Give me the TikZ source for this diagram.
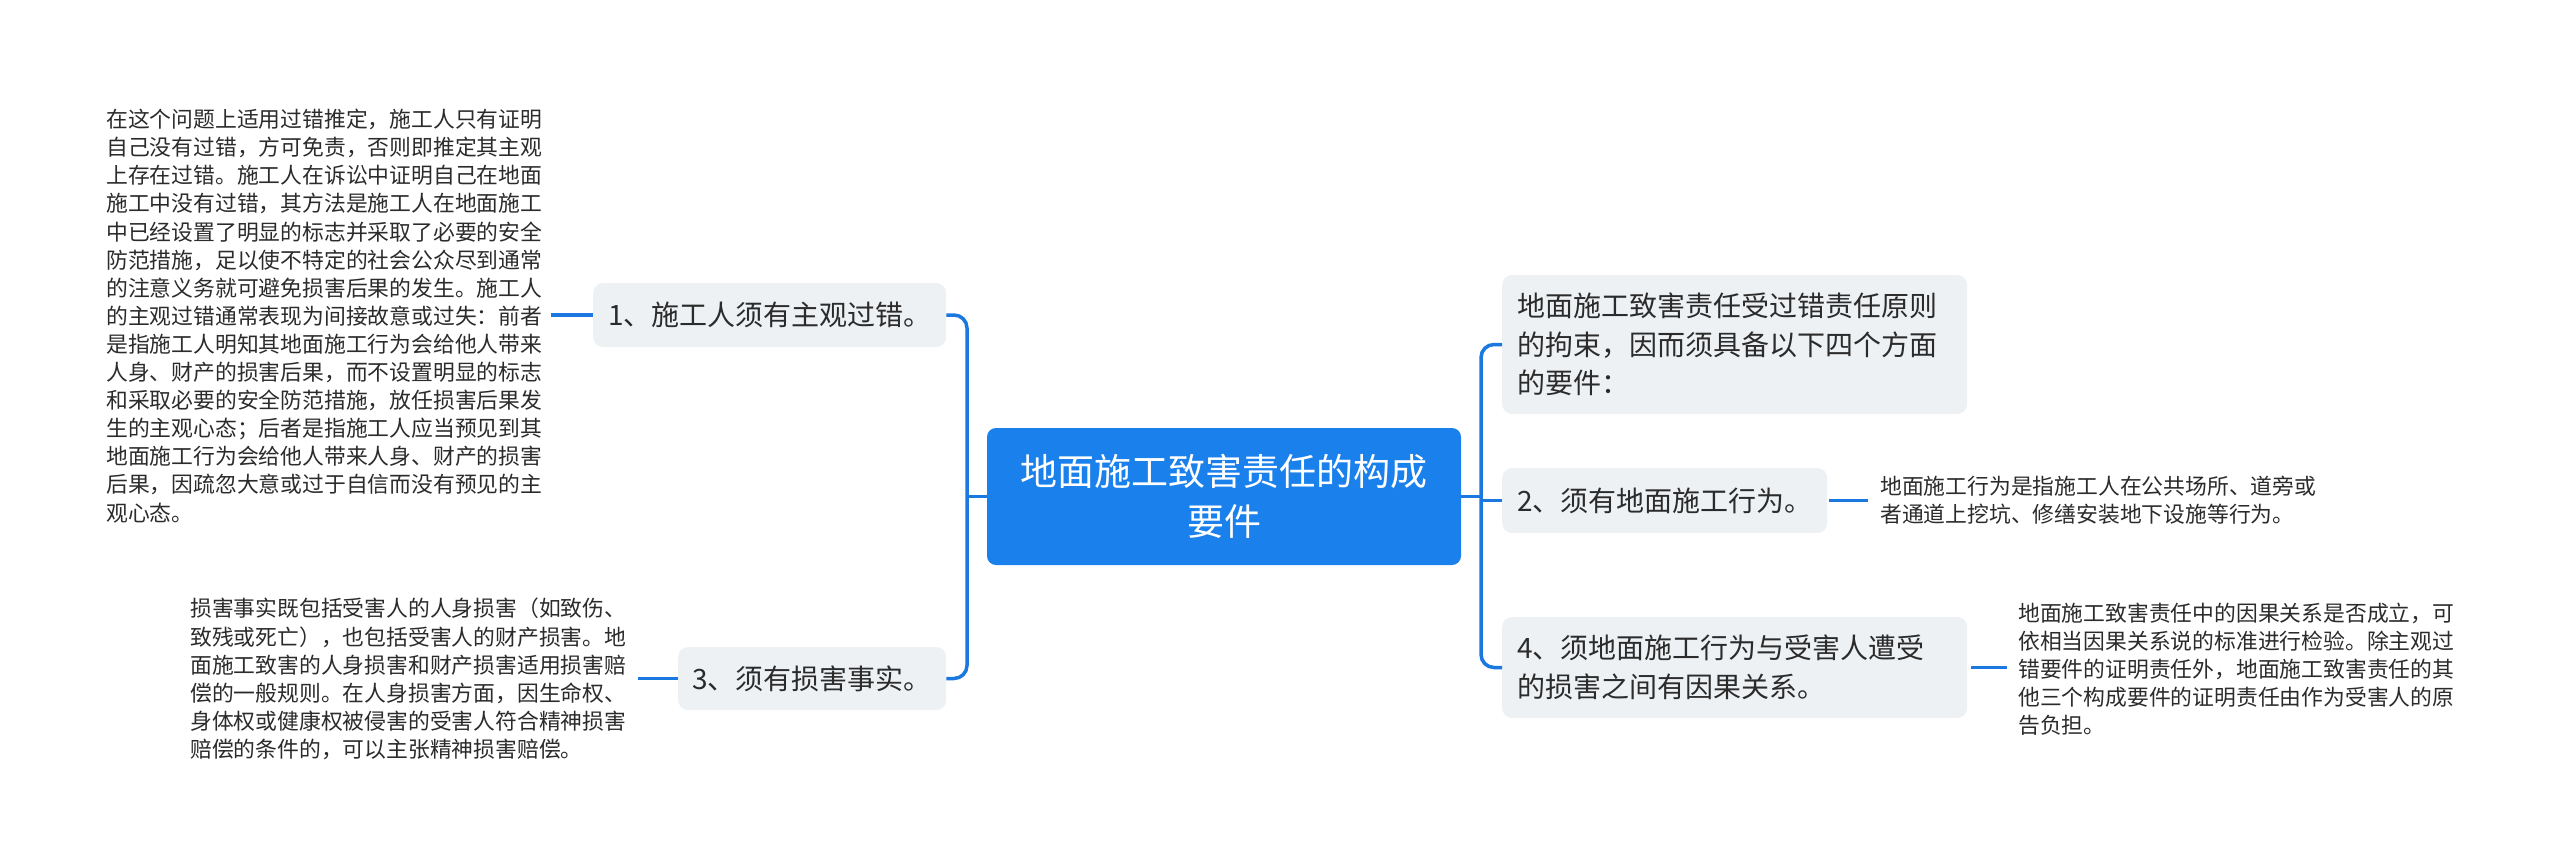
\documentclass[tikz,border=0pt]{standalone}
\usepackage{fontspec}
\setmainfont{Noto Sans CJK SC}
\definecolor{mainblue}{HTML}{1A80EC}
\definecolor{linkblue}{HTML}{1B78E0}
\definecolor{boxgray}{HTML}{EEF1F4}
\definecolor{txt}{HTML}{2B2B2B}
\tikzset{
  centerbox/.style={fill=mainblue, text=white, rounded corners=9pt, minimum width=474pt, minimum height=137pt, inner sep=0pt, align=center, font=\fontsize{37pt}{50pt}\selectfont},
  topicbox/.style={fill=boxgray, text=txt, rounded corners=10pt, anchor=west, inner xsep=15pt, inner ysep=0pt, align=left, font=\fontsize{28pt}{38.5pt}\selectfont},
  leaftext/.style={text=txt, anchor=west, inner sep=0pt, align=left, font=\fontsize{21.8pt}{28.1pt}\selectfont},
  conn/.style={draw=linkblue, line width=3.5pt, rounded corners=13pt},
  leafconn/.style={draw=linkblue, line width=3.5pt}
}
\begin{document}
\begin{tikzpicture}[x=1pt,y=-1pt]
\useasboundingbox (0,0) rectangle (2560,867);
\fill[white] (0,0) rectangle (2560,867);

\node[centerbox] (c) at (1224,496.5) {地面施工致害责任的构成\\要件};

\node[topicbox, text width=323pt, minimum height=64pt] (n1) at (593,315) {1、施工人须有主观过错。};
\node[topicbox, text width=240pt, inner xsep=14pt, minimum height=63pt] (n3) at (678,678.5) {3、须有损害事实。};

\node[topicbox, text width=435pt, minimum height=139pt] (r0) at (1502,344.5) {地面施工致害责任受过错责任原则\\的拘束，因而须具备以下四个方面\\的要件：};
\node[topicbox, text width=295pt, minimum height=65pt] (r2) at (1502,500.5) {2、须有地面施工行为。};
\node[topicbox, text width=435pt, minimum height=101pt] (r4) at (1502,667.5) {4、须地面施工行为与受害人遭受\\的损害之间有因果关系。};

\node[leaftext] (t1) at (106,316) {在这个问题上适用过错推定，施工人只有证明\\自己没有过错，方可免责，否则即推定其主观\\上存在过错。施工人在诉讼中证明自己在地面\\施工中没有过错，其方法是施工人在地面施工\\中已经设置了明显的标志并采取了必要的安全\\防范措施，足以使不特定的社会公众尽到通常\\的注意义务就可避免损害后果的发生。施工人\\的主观过错通常表现为间接故意或过失：前者\\是指施工人明知其地面施工行为会给他人带来\\人身、财产的损害后果，而不设置明显的标志\\和采取必要的安全防范措施，放任损害后果发\\生的主观心态；后者是指施工人应当预见到其\\地面施工行为会给他人带来人身、财产的损害\\后果，因疏忽大意或过于自信而没有预见的主\\观心态。};

\node[leaftext] (t3) at (190,679) {损害事实既包括受害人的人身损害（如致伤、\\致残或死亡），也包括受害人的财产损害。地\\面施工致害的人身损害和财产损害适用损害赔\\偿的一般规则。在人身损害方面，因生命权、\\身体权或健康权被侵害的受害人符合精神损害\\赔偿的条件的，可以主张精神损害赔偿。};

\node[leaftext] (t2) at (1880,500.5) {地面施工行为是指施工人在公共场所、道旁或\\者通道上挖坑、修缮安装地下设施等行为。};

\node[leaftext] (t4) at (2018,669) {地面施工致害责任中的因果关系是否成立，可\\依相当因果关系说的标准进行检验。除主观过\\错要件的证明责任外，地面施工致害责任的其\\他三个构成要件的证明责任由作为受害人的原\\告负担。};

\coordinate (lt) at (967,496.5);
\coordinate (rt) at (1481,496.5);

\draw[conn] (n1.east) -| (lt) |- (n3.east);
\draw[leafconn] (lt) -- (c.west);
\draw[conn] (r0.west) -| (rt) |- (r4.west);
\draw[leafconn] (c.east) -- (rt);
\draw[leafconn] (rt |- r2.west) -- (r2.west);

\draw[leafconn, shorten >=9pt] (n1.west) -- (n1.west -| t1.east);
\draw[leafconn, shorten >=12pt] (n3.west) -- (n3.west -| t3.east);
\draw[leafconn, shorten <=2pt, shorten >=12pt] (r2.east) -- (r2.east -| t2.west);
\draw[leafconn, shorten <=4pt, shorten >=11pt] (r4.east) -- (r4.east -| t4.west);
\end{tikzpicture}
\end{document}
